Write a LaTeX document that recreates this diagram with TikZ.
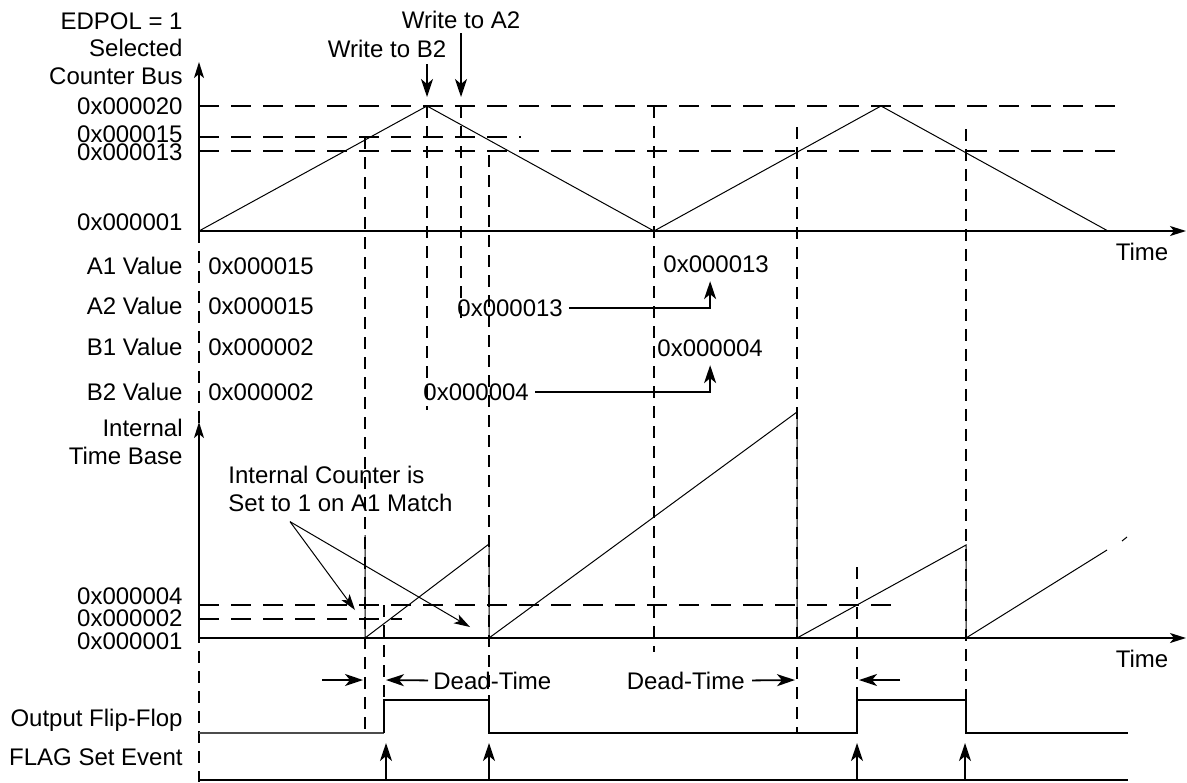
\documentclass[tikz,border=0pt]{standalone}
\usepackage{fontspec}
\setmainfont{Liberation Sans}
\usetikzlibrary{arrows.meta}

\begin{document}
\begin{tikzpicture}[x=0.5pt,y=-0.5pt,
  every node/.style={inner sep=0pt,font=\fontsize{12}{13.7}\selectfont},
  lab/.style={anchor=base east,align=right},
  val/.style={anchor=base west,align=left},
  axis/.style={line width=0.9pt,-{Stealth[length=8pt,width=5pt,inset=2pt]}},
  ramp/.style={line width=0.5pt},
  level/.style={line width=0.8pt,dash pattern=on 10pt off 6pt},
  vline/.style={line width=0.8pt,dash pattern=on 6pt off 4pt},
  sig/.style={line width=0.9pt},
  arrow/.style={line width=0.9pt,-{Stealth[length=9pt,width=6pt,inset=2.5pt]}},
  note/.style={line width=0.5pt,-{Stealth[length=8pt,width=5pt,inset=2pt]}}
]
  \useasboundingbox (0,0) rectangle (1187,782);
  \coordinate (o1) at (199,231);
  \coordinate (o2) at (199,638);

  \node[lab] (bus) at (183,84) {EDPOL = 1\\Selected\\Counter Bus};
  \node[lab] (t20) at (183,114.5) {0x000020};
  \node[lab] (t15) at (183,142.3) {0x000015};
  \node[lab] (t13) at (183,160.2) {0x000013};
  \node[lab] (t01) at (183,230) {0x000001};
  \node (wa2) at (461,20) {Write to A2};
  \node (wb2) at (387,49) {Write to B2};
  \node (time1) at (1142,252) {Time};
  \coordinate (wa2tip) at (461,97);
  \coordinate (wb2tip) at (427,97);

  \draw[level] (199,106) -- (1127,106);
  \draw[level] (199,137) -- (521,137);
  \draw[level] (199,151) -- (1127,151);
  \draw[axis] (o1) -- (199,62);
  \draw[axis] (o1) -- (1186,231);
  \draw[ramp] (o1) -- (427,106) -- (654,231) -- (881,106) -- (1108,231);
  \draw[arrow] ([yshift=-2pt]wa2.south) -- (wa2tip);
  \draw[arrow] ([yshift=-3pt]wb2.south -| wb2tip) -- (wb2tip);

  \draw[vline] (199,231) -- (199,782);
  \draw[vline] (365,137) -- (365,733);
  \draw[vline] (384,605) -- (384,700);
  \draw[vline] (427,106) -- (427,410);
  \draw[vline] (461,106) -- (461,323);
  \draw[vline] (489,155) -- (489,700);
  \draw[vline] (654,106) -- (654,652);
  \draw[vline] (797,127) -- (797,733);
  \draw[vline] (857,567) -- (857,700);
  \draw[vline] (966,129) -- (966,700);

  \node[lab] (a1) at (183,274) {A1 Value};
  \node[lab] (a2) at (183,314) {A2 Value};
  \node[lab] (b1) at (183,355) {B1 Value};
  \node[lab] (b2) at (183,400.5) {B2 Value};
  \node[val] (a1old) at (208,274) {0x000015};
  \node[val] (a2old) at (208,314) {0x000015};
  \node[val] (b1old) at (208,355) {0x000002};
  \node[val] (b2old) at (208,400.5) {0x000002};
  \node[val] (a1new) at (663,272.5) {0x000013};
  \node[val] (a2new) at (457,316.5) {0x000013};
  \node[val] (b1new) at (657,356.5) {0x000004};
  \node[val] (b2new) at (423,400.5) {0x000004};
  \draw[arrow] ([xshift=3pt]a2new.east) -| ([shift={(-3pt,-4pt)}]a1new.south);
  \draw[arrow] ([xshift=3pt]b2new.east) -| ([yshift=-4pt]b1new.south);

  \node[lab] (itb) at (183,464) {Internal\\Time Base};
  \node[lab] (i4) at (183,604) {0x000004};
  \node[lab] (i2) at (183,626) {0x000002};
  \node[lab] (i1) at (183,649) {0x000001};
  \node (time2) at (1142,659) {Time};
  \node[val] (reset) at (228,511) {Internal Counter is\\Set to 1 on A1 Match};
  \coordinate (hit1) at (355,610);
  \coordinate (hit2) at (470,627);

  \draw[level] (199,605) -- (892,605);
  \draw[level] (199,619) -- (402,619);
  \draw[axis] (o2) -- (199,422);
  \draw[axis] (o2) -- (1186,638);
  \draw[ramp] (365,535) -- (365,638) -- (489,544) -- (489,638) -- (797,412) -- (797,638)
    -- (966,545) -- (966,638) -- (1107,550);
  \draw[ramp] (1122,541) -- (1127,537);
  \draw[note] ([shift={(31pt,-5pt)}]reset.south west) -- (hit1);
  \draw[note] ([shift={(31pt,-5pt)}]reset.south west) -- (hit2);

  \node[val] (dt1) at (433,689) {Dead-Time};
  \node[lab] (dt2) at (745,689) {Dead-Time};
  \node[lab] (ff) at (183,726.5) {Output Flip-Flop};
  \node[lab] (flag) at (183,765) {FLAG Set Event};
  \coordinate (dt0) at (322,680);
  \coordinate (dt3) at (900,680);
  \draw[arrow] (dt0) -- (363,680);
  \draw[arrow] ([xshift=-2.5pt]dt1.west) -- (386,680);
  \draw[arrow] ([xshift=3.5pt]dt2.east) -- (795,680);
  \draw[arrow] (dt3) -- (859,680);

  \draw[line width=0.6pt,black!70] (199,733) -- (384,733);
  \draw[sig] (384,733) -- (384,700) -- (489,700) -- (489,733) -- (857,733) -- (857,700)
    -- (966,700) -- (966,733) -- (1128,733);
  \draw[sig] (199,780) -- (1128,780);
  \draw[arrow] (386,780) -- (386,743);
  \draw[arrow] (489,780) -- (489,743);
  \draw[arrow] (857,780) -- (857,743);
  \draw[arrow] (965,780) -- (965,743);
\end{tikzpicture}
\end{document}
